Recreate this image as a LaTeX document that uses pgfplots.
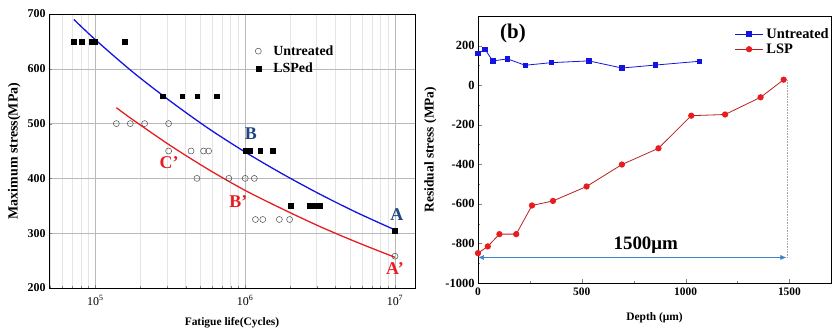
\documentclass[border=0pt]{standalone}
\usepackage{fontspec}
\setmainfont{Liberation Serif}
\usepackage{pgfplots}
\pgfplotsset{compat=1.18}
\usetikzlibrary{arrows.meta}
\definecolor{cblue}{RGB}{20,20,225}
\definecolor{cred}{RGB}{232,28,32}
\definecolor{dred}{RGB}{185,30,30}
\definecolor{nblue}{RGB}{30,70,130}
\definecolor{ablue}{RGB}{60,130,200}
\begin{document}
\begin{tikzpicture}
\path[use as bounding box] (0bp,0bp) rectangle (832bp,332bp);
% ---------------- left panel ----------------
\begin{axis}[at={(49bp,44bp)}, anchor=south west, scale only axis,
  width=366bp, height=274bp,
  xmode=log, xmin=4.9e4, xmax=1.36e7, ymin=200, ymax=700,
  xtick={1e5,1e6,1e7}, xticklabels={10\textsuperscript{5},10\textsuperscript{6},10\textsuperscript{7}},
  minor xtick={5e4,6e4,7e4,8e4,9e4,2e5,3e5,4e5,5e5,6e5,7e5,8e5,9e5,2e6,3e6,4e6,5e6,6e6,7e6,8e6,9e6},
  ytick={200,300,400,500,600,700}, yticklabels={\textbf{200},\textbf{300},\textbf{400},\textbf{500},\textbf{600},\textbf{700}},
  tick align=inside, xtick pos=bottom, ytick pos=left,
  major tick length=3pt, minor tick length=2pt,
  xmajorgrids, ymajorgrids, xminorgrids,
  major grid style={gray!55, line width=0.6pt},
  minor grid style={gray!20, line width=0.4pt},
  tick label style={font=\fontsize{12}{14}\selectfont},
  xticklabel style={yshift=-4pt},
  xlabel={\textbf{Fatigue life(Cycles)}}, ylabel={\textbf{Maximum stress(MPa)}},
  xlabel style={font=\fontsize{11.5}{13}\selectfont, yshift=-5pt},
  ylabel style={font=\fontsize{14}{16}\selectfont, yshift=0pt},
  legend style={draw=none, fill=none, at={(0.555,0.9)}, anchor=north west,
    font=\bfseries\fontsize{14}{16}\selectfont, row sep=2pt,
    /tikz/every odd column/.append style={column sep=10pt}},
  legend cell align=left,
  axis line style={line width=0.7pt},
]
\addplot[only marks, mark=o, mark size=3bp, draw=black!70, line width=0.5pt] coordinates {
 (138000,500) (171000,500) (213000,500) (308000,500)
 (308000,450) (435000,450) (527000,450) (570000,450)
 (476000,400) (778000,400) (1000000,400) (1150000,400)
 (1170000,325) (1310000,325) (1690000,325) (1980000,325)
 (10000000,258)
};
\addlegendentry{Untreated}
\addplot[only marks, mark=square*, mark size=2.4bp, black] coordinates {
 (71800,650) (80700,650) (95000,650) (99000,650) (156000,650)
 (281000,550) (380000,550) (478000,550) (647000,550)
 (1000000,450) (1080000,450) (1260000,450) (1530000,450)
 (2010000,350) (2670000,350) (2860000,350) (3130000,350)
 (10000000,305)
};
\addlegendentry{LSPed}
\addplot[cblue, line width=1.3pt, smooth, no marks, forget plot] coordinates {
 (71800,690) (100000,653) (177800,594) (316200,541) (562300,492)
 (1000000,448) (1778000,408) (3162000,371) (5623000,337) (10000000,306)
};
\addplot[cred, line width=1.3pt, smooth, no marks, forget plot] coordinates {
 (138000,529) (177800,507) (316200,460) (562300,417)
 (1000000,378) (1778000,344) (3162000,312) (5623000,283) (10000000,256)
};
\node[nblue, font=\bfseries\fontsize{18}{20}\selectfont] at (axis cs:1.09e6,482) {B};
\node[nblue, font=\bfseries\fontsize{18}{20}\selectfont] at (axis cs:1.03e7,334) {A};
\node[cred, font=\bfseries\fontsize{18}{20}\selectfont] at (axis cs:3.1e5,428) {C’};
\node[cred, font=\bfseries\fontsize{18}{20}\selectfont] at (axis cs:9.0e5,358) {B’};
\node[cred, font=\bfseries\fontsize{18}{20}\selectfont] at (axis cs:1.0e7,236) {A’};
\end{axis}
% ---------------- right panel ----------------
\begin{axis}[at={(478bp,49bp)}, anchor=south west, scale only axis,
  width=353bp, height=267bp,
  xmin=0, xmax=1700, ymin=-1000, ymax=350,
  xtick={0,500,1000,1500}, xticklabels={\textbf{0},\textbf{500},\textbf{1000},\textbf{1500}},
  ytick={-1000,-800,-600,-400,-200,0,200},
  yticklabels={\textbf{-1000},\textbf{-800},\textbf{-600},\textbf{-400},\textbf{-200},\textbf{0},\textbf{200}},
  minor x tick num=1, minor y tick num=1,
  tick align=inside, xtick pos=bottom, ytick pos=left,
  major tick length=4pt, minor tick length=2.5pt,
  xticklabel style={font=\fontsize{11.5}{13}\selectfont, yshift=-1pt},
  yticklabel style={font=\fontsize{12.5}{14}\selectfont},
  xlabel={\textbf{Depth (μm)}}, ylabel={\textbf{Residual stress (MPa)}},
  xlabel style={font=\fontsize{11.5}{13}\selectfont, yshift=-11pt},
  ylabel style={font=\fontsize{13.5}{15}\selectfont, yshift=2pt},
  legend style={draw=none, fill=none, at={(0.718,0.97)}, anchor=north west,
    font=\bfseries\fontsize{14.5}{16}\selectfont, row sep=0pt,
    /tikz/every odd column/.append style={column sep=1pt}},
  legend image code/.code={\draw[mark repeat=2,mark phase=2] plot coordinates {(0bp,0bp) (14bp,0bp) (28bp,0bp)};},
  legend cell align=left,
  axis line style={line width=0.8pt},
]
\addplot[cblue, line width=0.8pt, mark=square*, mark size=2.2bp, mark options={fill=cblue, draw=cblue}] coordinates {
 (0,161) (34,181) (71,123) (142,133) (227,101) (353,114) (534,123) (693,87) (855,102) (1066,121)
};
\addlegendentry{Untreated}
\addplot[dred, line width=0.8pt, mark=*, mark size=2.7bp, mark options={fill=cred, draw=cred}] coordinates {
 (0,-849) (47,-815) (103,-753) (184,-753) (260,-608) (361,-585) (523,-512)
 (693,-401) (869,-319) (1027,-154) (1190,-148) (1361,-61) (1472,28)
};
\addlegendentry{LSP}
\draw[ablue, line width=0.6pt, -{Latex[length=6pt,width=5pt]}] (axis cs:700,-871) -- (axis cs:1485,-871);
\draw[ablue, line width=0.6pt, -{Latex[length=6pt,width=5pt]}] (axis cs:700,-871) -- (axis cs:0,-871);
\draw[gray!70, densely dotted, line width=0.6pt] (axis cs:1490,-871) -- (axis cs:1490,28);
\node[font=\bfseries\fontsize{19}{21}\selectfont] at (axis cs:808,-807) {1500μm};
\node[font=\bfseries\fontsize{21}{23}\selectfont] at (rel axis cs:0.099,0.936) {(b)};
\end{axis}
\end{tikzpicture}
\end{document}
